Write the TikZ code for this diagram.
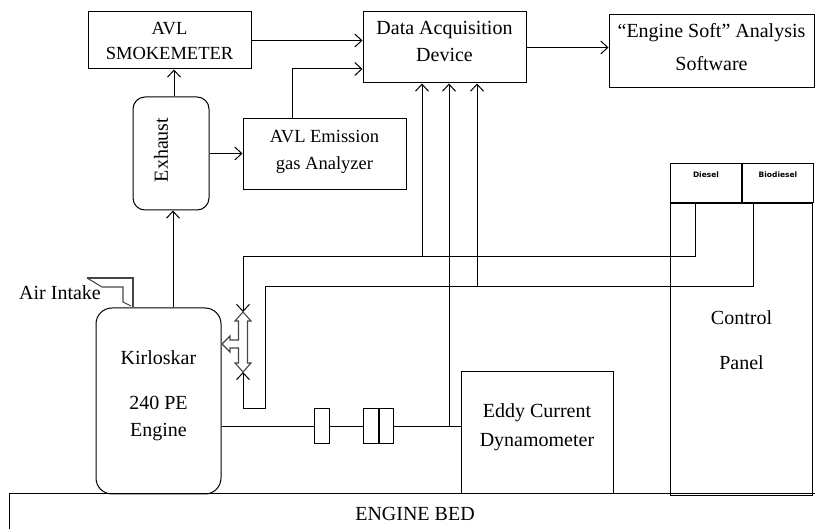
\documentclass[tikz,border=0pt]{standalone}
\usepackage{fontspec}
\setmainfont{Liberation Serif}
\newfontfamily\fuelfont{DejaVu Sans}
\usepackage{tikz}
\usetikzlibrary{arrows.meta, positioning, calc}
\definecolor{cValve}{RGB}{70,70,70}
\tikzset{
	blk/.style      ={rectangle, draw=black, line width=1pt, align=center, inner sep=2pt},
	rblk/.style     ={rectangle, rounded corners=14pt, draw=black, line width=1pt, align=center},
	sig/.style      ={-{Straight Barb[length=7pt, width=13pt, line width=1pt]}, line width=1pt},
	wire/.style     ={line width=1pt},
	% piping drawn as grey outlines
	pipe/.style     ={line width=1.1pt, cValve},
	valveshape/.style={line width=1.1pt, cValve, line join=miter},
}

\begin{document}
\begin{tikzpicture}[x=1pt, y=-1pt, every node/.style={font=\fontsize{20}{27}\selectfont},
			fuel/.style={blk, minimum width=71, minimum height=39},
			fueltxt/.style={font=\fuelfont\bfseries\fontsize{7.5}{9}\selectfont}]
			\useasboundingbox (0,0) rectangle (815,529);
			\node[blk, minimum width=163, minimum height=57, font=\fontsize{18.5}{25}\selectfont] (smoke) at (169.5,40.5) {AVL\\SMOKEMETER};
			\node[blk, minimum width=163, minimum height=71] (daq) at (444.5,47.5) {Data Acquisition\\Device\\[-15pt]};
			\node[blk, minimum width=205, minimum height=73] (soft) at (711.5,51.5) {“Engine Soft” Analysis\\[6pt]Software\\[-17pt]};
			\node[rblk, rounded corners=12pt, minimum width=76, minimum height=113] (exhaust) at (171,153.5) {};
			\node[rotate=90] (exhtxt) at (161,150) {Exhaust};
			\node[blk, minimum width=163, minimum height=71, font=\fontsize{18.5}{27}\selectfont] (emis) at (324.5,154.5) {AVL Emission\\gas Analyzer\\[-17pt]};
			\node[rblk, rounded corners=16pt, minimum width=125, minimum height=186] (engine) at (158.5,401) {Kirloskar\\[18pt]240 PE\\Engine\\[-12pt]};
			\node (air) at (60,293) {Air Intake};
			\node[blk, minimum width=152, minimum height=122] (eddy) at (537,433) {Eddy Current\\[2pt]Dynamometer\\[-11pt]};
			\node[fuel, anchor=north west] (diesel) at (670,163) {};
			\node[fuel, anchor=north west] (bio) at (diesel.north east) {};
			\node[fueltxt, below=5pt of diesel.north] (dsltxt) {Diesel};
			\node[fueltxt, below=5pt of bio.north] (biotxt) {Biodiesel};
			\node[blk, minimum width=142, minimum height=292, anchor=north west] (panel) at (diesel.south west) {Control\\[18pt]Panel\\[-9pt]};
			\node[blk, minimum width=830, minimum height=40] (bed) at (424,514) {\hspace*{-18pt}ENGINE BED};
			\node[blk, minimum width=15, minimum height=35] (c1) at (321.5,426.5) {};
			\node[blk, minimum width=15, minimum height=35] (c2a) at (370.5,426.5) {};
			\node[blk, minimum width=14, minimum height=35, right=0pt of c2a] (c2b) {};
			% valve and air intake
			\draw[valveshape] (243,312) -- (251,321) -- (247.5,321) -- (247.5,363) -- (251,363) -- (243,372) -- (235,363) -- (238.5,363) -- (238.5,348) -- (230,348) -- (230,352) -- (222,344) -- (230,336) -- (230,340) -- (238.5,340) -- (238.5,321) -- (235,321) -- cycle;
			\coordinate (vtop) at (243,312); \coordinate (vbot) at (243,372);
			\draw[pipe] (87,278) -- (133,278) -- (133,307);
			\draw[pipe] (87,278) -- (102,287) -- (123,287) -- (123,302) -- (131,306);
			% signal and flow lines
			\draw[sig] ([xshift=14.5]engine.north) -- ([xshift=2]exhaust.south);
			\draw[sig] ([xshift=3]exhaust.north) -- ([xshift=3]exhaust.north |- smoke.south);
			\draw[sig] (exhaust.east) -- (exhaust.east -| emis.west);
			\draw[sig] (smoke.east) -- (smoke.east -| daq.west);
			\draw[sig] ([xshift=-32.5]emis.north) |- ($(daq.west)+(0,21.5)$);
			\draw[sig] (daq.east) -- (daq.east -| soft.west);
			\coordinate (dsl) at (695,257); \coordinate (bio1) at (753,287); \coordinate (bio2) at (265,287); \coordinate (bio3) at (265,409);
			\draw[sig] (diesel.south -| dsl) -- (dsl) -| (vtop);
			\draw[sig] (bio.south -| bio1) -- (bio1) -- (bio2) -- (bio3) -| (vbot);
			\draw[wire] (c1.west -| engine.east) -- (c1.west); \draw[wire] (c1.east) -- (c2a.west); \draw[wire] (c2b.east) -- (c2b.east -| eddy.west);
			\coordinate (j1) at (422,257); \coordinate (j2) at (449,426.5); \coordinate (j3) at (477,287);
			\foreach \j in {j1,j2,j3} \draw[sig] (\j) -- (\j |- daq.south);
		\end{tikzpicture}
\end{document}
